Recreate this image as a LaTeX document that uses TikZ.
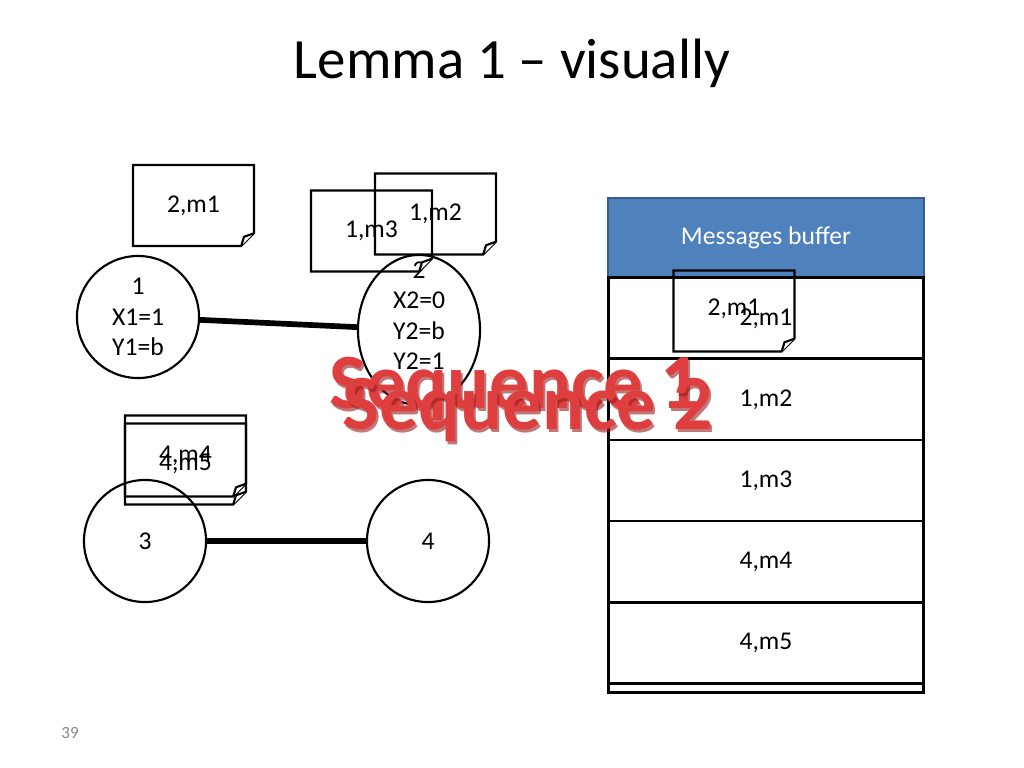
\documentclass[tikz,border=0pt]{standalone}
\usepackage{fontspec}
\setmainfont{Carlito}
\usetikzlibrary{positioning, shapes.geometric}

\definecolor{bufblue}{RGB}{79,129,189}
\definecolor{bufedge}{RGB}{56,93,138}
\definecolor{seqred}{RGB}{222,62,62}
\definecolor{seqdark}{RGB}{150,30,30}
\definecolor{pagegray}{RGB}{137,137,137}

\begin{document}
\begin{tikzpicture}[
    x=0.703pt, y=-0.703pt,
    font=\fontsize{18}{21.5}\selectfont,
    proc/.style={circle, draw=black, line width=1.5pt, minimum size=85.8pt, inner sep=0pt, align=center},
    procwide/.style={ellipse, draw=black, line width=1.5pt, minimum width=85.8pt, minimum height=105.5pt, inner sep=0pt},
    msgnote/.style={rectangle, minimum width=85pt, minimum height=57pt, inner sep=0pt, outer sep=0pt},
    noteedge/.style={draw=black, line width=1.5pt, line join=miter},
    fold/.style={draw=black, fill=white, line width=1.5pt, line join=round},
    bufhead/.style={rectangle, draw=bufedge, fill=bufblue, line width=1pt, outer sep=0pt, minimum width=222pt, minimum height=56pt, text=white},
    bufrow/.style={rectangle, draw=black, line width=2pt, outer sep=0pt, minimum width=222pt, minimum height=57pt},
    link/.style={draw, line width=4pt},
    seqtext/.style={font=\fontsize{55}{60}\selectfont\bfseries, text=seqred},
    seqshade/.style={font=\fontsize{55}{60}\selectfont\bfseries, text=seqdark, opacity=0.6}
]
    \useasboundingbox (0,0) rectangle (1024,768);

    \node [font=\fontsize{40}{48}\selectfont] (title) at (512,63) {Lemma 1 -- visually};
    \node [font=\fontsize{12}{14}\selectfont, text=pagegray] (pagenum) at (70,733) {39};

    % processes
    \node [proc] (p1) at (138,317) {1\\X1=1\\Y1=b};
    \node [procwide, label={[align=center, yshift=10pt]center:{2\\X2=0\\Y2=b\\Y2=1}}] (p2) at (419,330) {};
    \node [proc] (p3) at (145,541) {3};
    \node [proc] (p4) at (428,541) {4};

    \draw [link] (p1) -- (p2);
    \draw [link] (p3) -- (p4);

    % messages in transit
    \node [msgnote] (n21) at (193.5,205.5) {2,m1};
    \node [msgnote] (n13) at (371.5,231) {1,m3};
    \node [msgnote] (n12) at (435.5,214) {1,m2};
    \node [msgnote] (n44) at (185.5,456) {4,m4};
    \node [msgnote] (n45) at (185.5,464) {4,m5};

    \foreach \n in {n21,n13,n12,n44,n45} {
        \draw [noteedge] (\n.north west) -- (\n.north east) -- ([yshift=9pt]\n.south east)
            -- ([xshift=-9pt]\n.south east) -- (\n.south west) -- cycle;
        \draw [fold] ([xshift=-9pt]\n.south east) -- ([xshift=-7pt,yshift=6.5pt]\n.south east)
            -- ([yshift=9pt]\n.south east);
    }

    % buffer
    \node [bufhead] (head) at (766,238) {\raisebox{-2pt}{Messages buffer}};
    \node [bufrow, below=0pt of head] (r1) {\raisebox{-2pt}{2,m1}};
    \node [bufrow, below=0pt of r1] (r2) {1,m2};
    \node [bufrow, below=0pt of r2] (r3) {1,m3};
    \node [bufrow, below=0pt of r3] (r4) {4,m4};
    \node [bufrow, below=0pt of r4] (r5) {4,m5};
    \node [bufrow, minimum height=4.5pt, below=0pt of r5] (r6) {};

    \node [msgnote] (bn21) at (734,311) {\raisebox{5pt}{2,m1}};
    \draw [noteedge] (bn21.north west) -- (bn21.north east) -- ([yshift=9pt]bn21.south east)
        -- ([xshift=-9pt]bn21.south east) -- (bn21.south west) -- cycle;
    \draw [fold] ([xshift=-9pt]bn21.south east) -- ([xshift=-7pt,yshift=6.5pt]bn21.south east)
        -- ([yshift=9pt]bn21.south east);

    % sequences
    \node [seqshade] (seq1s) at (517,392) {Sequence 1};
    \node [seqtext] (seq1) at (515,389) {Sequence 1};
    \node [seqshade] (seq2s) at (530,413) {Sequence 2};
    \node [seqtext] (seq2) at (528,410) {Sequence 2};

\end{tikzpicture}
\end{document}
